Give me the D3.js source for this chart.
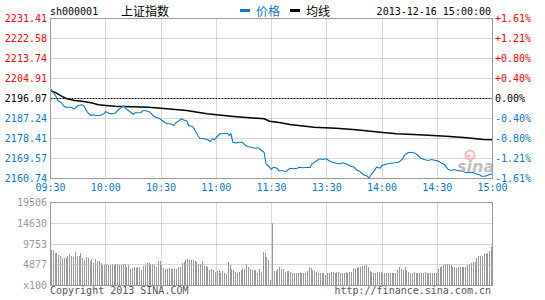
<!DOCTYPE html>
<html><head><meta charset="utf-8">
<script src="https://cdn.jsdelivr.net/npm/d3@7"></script>
<style>body{margin:0;background:#fff}svg{display:block}</style>
</head><body>
<svg id="c" width="545" height="300"></svg>
<script>
// ---- data ----
const code = "sh000001";
const title = "上证指数";
const dateText = "2013-12-16 15:00:00";
const legendNames = ["价格", "均线"];
const prevClose = 2196.07;
const priceTicks = [2231.41,2222.58,2213.74,2204.91,2196.07,2187.24,2178.41,2169.57,2160.74];
const pctLabels = ["+1.61%","+1.21%","+0.80%","+0.40%","0.00%","-0.40%","-0.80%","-1.21%","-1.61%"];
const timeLabels = ["09:30","10:00","10:30","11:00","11:30","13:30","14:00","14:30","15:00"];
const timeTickMinutes = [0,30,60,90,120,150,180,210,240];
const volTicks = [19506,14630,9753,4877];
const volUnit = "x100";

const priceMinutes = [0,2,3,4,6,7,8,11,13,15,17,18,19,20,22,23,25,27,29,30,
31,33,35,37,39,40,41,43,45,46,49,50,52,54,56,58,59,61,63,65,
67,68,70,71,73,74,75,77,78,79,80,81,83,85,87,88,89,91,92,94,
96,97,98,99,101,102,104,106,107,109,111,113,114,116,117,118,120,121,123,124,
126,128,130,132,134,135,137,139,141,142,144,146,148,150,151,153,155,157,159,161,
163,165,166,168,170,172,173,174,176,177,179,180,182,185,189,191,192,194,196,198,
200,201,203,205,207,209,210,212,214,216,218,219,221,223,225,227,229,231,233,234,
236,238,240];
const priceValues = [2200.35,2198.15,2196.95,2195.19,2194.17,2192.98,2192.23,2192.23,2191.52,2192.98,
2193.29,2192.98,2191.52,2190.02,2188.56,2188.87,2188.56,2188.56,2189.31,2190.33,
2189.75,2189.31,2189.58,2191.21,2192.54,2192.67,2191.52,2190.33,2189.14,2189.75,
2189.75,2190.64,2190.64,2190.02,2188.25,2187.55,2187.37,2186.13,2184.90,2184.90,
2184.14,2185.34,2186.35,2187.10,2186.35,2186.22,2184.14,2183.70,2182.69,2181.18,
2179.73,2178.53,2178.27,2177.96,2177.08,2178.27,2177.96,2179.73,2180.48,2180.48,
2180.74,2179.73,2180.48,2176.77,2176.50,2176.77,2176.77,2175.31,2174.87,2174.56,
2174.12,2174.30,2173.41,2172.35,2167.23,2166.48,2164.71,2165.73,2165.28,2164.14,
2164.14,2163.83,2165.28,2165.02,2165.28,2165.73,2165.46,2165.59,2165.59,2167.23,
2168.24,2169.44,2169.13,2169.44,2168.69,2167.93,2167.49,2167.23,2167.67,2167.05,
2166.17,2165.73,2164.58,2163.83,2162.37,2161.75,2160.87,2162.37,2164.27,2165.73,
2165.28,2166.48,2167.05,2167.49,2167.93,2169.13,2170.89,2172.09,2172.35,2171.91,
2170.58,2169.70,2169.13,2168.69,2169.13,2168.69,2168.69,2167.67,2166.79,2164.71,
2164.27,2164.71,2164.27,2164.27,2163.52,2163.25,2163.52,2162.81,2162.37,2161.75,
2161.75,2162.37,2162.81];

const avgMinutes = [0,3,6,9,13,18,22,26,30,35,53,60,74,85,98,108,116,119,125,130,
143,155,166,179,188,200,215,226,235,240];
const avgValues = [2199.60,2198.59,2197.09,2195.94,2195.19,2194.74,2194.17,2193.29,2192.98,2192.67,
2192.23,2191.79,2190.77,2189.31,2188.25,2187.55,2187.10,2186.04,2185.34,2184.59,
2183.39,2182.95,2182.25,2181.18,2180.48,2180.04,2179.42,2178.71,2177.96,2177.83];

const volumes = [
8225,8225,7598,7598,7050,6815,6423,6423,6423,6815,
7207,6900,6658,7755,6893,6893,7598,6423,5797,6502,
6267,5718,6032,5248,6110,5640,5562,5248,4700,4700,
4935,4622,4700,4935,4700,4935,4935,4700,4800,5013,
4935,4308,4622,3838,4073,4152,4073,4308,4152,3525,
4465,4700,5092,5092,4935,4935,4700,4308,5640,5718,
4700,4073,3760,3760,3900,3682,3760,3682,3682,4308,
4308,5092,5483,5875,6032,5875,5875,5900,5640,5483,
4935,4935,5640,4465,4465,4152,3525,3682,3525,3133,
3290,3525,2898,3290,2742,2585,5483,4700,3682,3525,
3133,2898,3133,3525,3917,3760,4935,4152,3760,3525,
3525,3525,2898,3682,3000,7833,7598,6658,5875,1175,
14492,3290,3290,3682,4308,3838,3682,3133,3290,3290,
3133,2898,2742,2742,2898,2898,2742,2898,2742,3290,
4308,3917,3525,3290,3133,2898,2898,2898,2898,2350,
2742,2742,3133,3133,2898,3133,3133,2742,2742,2898,
3133,2898,3133,3133,3917,3682,3917,4152,4308,4465,
4465,4700,4152,3368,3133,2742,2742,3133,3133,3133,
2742,2898,2742,2742,2742,2898,2898,2898,3525,4152,
3682,3525,4308,3525,3133,2898,2742,3133,2898,2898,
2742,2742,2898,3133,2898,2742,2898,2742,2742,2898,
3682,4152,4308,4700,4935,4935,4935,4700,4308,4152,
3917,4152,4152,4308,4152,4308,4700,4935,5248,5405,
5483,6267,6815,6815,6815,7207,7285,7442,8068,8852];

// ---- drawing ----
const RED = "#f00", BLUE = "#0a78c8", GRAY = "#999", GRID = "#b0b0b0";
const MONO = "'DejaVu Sans Mono', monospace";
const CJK = "'Noto Sans CJK SC', sans-serif";
const svg = d3.select("#c");

const x = d3.scaleLinear().domain([0, 240]).range([50.5, 492.5]);
const yP = d3.scaleLinear().domain([priceTicks[priceTicks.length-1], priceTicks[0]]).range([178.5, 18.5]);
const yV = d3.scaleLinear().domain([0, volTicks[0]]).range([285.5, 202.5]);
const snap = v => Math.round(v - 0.5) + 0.5;

// price grid
const g = svg.append("g");
g.selectAll(".hg").data(priceTicks.slice(1, -1).filter(d => d !== prevClose)).join("line")
  .attr("x1", 50.5).attr("x2", 492.5)
  .attr("y1", d => snap(yP(d))).attr("y2", d => snap(yP(d)))
  .attr("stroke", GRID).attr("stroke-dasharray", "1,1");
g.selectAll(".vg").data(timeTickMinutes.slice(1, -1)).join("line")
  .attr("x1", d => snap(x(d))).attr("x2", d => snap(x(d)))
  .attr("y1", 18.5).attr("y2", 178.5)
  .attr("stroke", GRID).attr("stroke-dasharray", "1,1");
// prev close dashed
g.append("line").attr("x1", 50.5).attr("x2", 492.5)
  .attr("y1", snap(yP(prevClose))).attr("y2", snap(yP(prevClose)))
  .attr("stroke", "#000").attr("stroke-dasharray", "2,1");

// lines
const avgLine = d3.line().x((d, i) => x(avgMinutes[i])).y(d => yP(d));
svg.append("path").attr("d", avgLine(avgValues)).attr("fill", "none")
  .attr("stroke", "#000").attr("stroke-width", 1.5);
const priceLine = d3.line().x((d, i) => x(priceMinutes[i])).y(d => yP(d));
svg.append("path").attr("d", priceLine(priceValues)).attr("fill", "none")
  .attr("stroke", BLUE).attr("stroke-width", 1.1);

// watermark
const wm = svg.append("g").attr("opacity", 0.75);
wm.append("circle").attr("cx", 470).attr("cy", 155).attr("r", 4.5).attr("fill", "none").attr("stroke", "#f3a3a3").attr("stroke-width", 2);
wm.append("circle").attr("cx", 469).attr("cy", 156).attr("r", 1.8).attr("fill", "#f3a3a3");
wm.append("text").attr("x", 457).attr("y", 172).text("sina")
  .attr("font-family", "'DejaVu Sans', sans-serif").attr("font-size", 16).attr("font-weight", "bold")
  .attr("font-style", "italic").attr("fill", "#aaa");

// price frame
svg.append("rect").attr("x", 50.5).attr("y", 18.5).attr("width", 442).attr("height", 160)
  .attr("fill", "none").attr("stroke", GRAY);

// left labels
svg.selectAll(".pl").data(priceTicks).join("text")
  .attr("x", 47).attr("y", d => yP(d) + 3.5).attr("text-anchor", "end")
  .attr("font-family", MONO).attr("font-size", 10)
  .attr("fill", d => d > prevClose ? RED : (d < prevClose ? BLUE : "#000"))
  .text(d => d.toFixed(2));
// right labels
svg.selectAll(".rl").data(pctLabels).join("text")
  .attr("x", 495).attr("y", (d, i) => yP(priceTicks[i]) + 3.5)
  .attr("font-family", MONO).attr("font-size", 10)
  .attr("fill", (d, i) => priceTicks[i] > prevClose ? RED : (priceTicks[i] < prevClose ? BLUE : "#000"))
  .text(d => d);
// time labels
svg.selectAll(".tl").data(timeLabels).join("text")
  .attr("x", (d, i) => x(timeTickMinutes[i])).attr("y", 191).attr("text-anchor", "middle")
  .attr("font-family", MONO).attr("font-size", 10).attr("fill", BLUE)
  .text(d => d);

// volume bars
svg.selectAll(".vb").data(volumes).join("rect")
  .attr("x", (d, i) => Math.round(x(i + 0.5) - 0.5))
  .attr("width", 1)
  .attr("y", d => Math.round(yV(d) - 0.5))
  .attr("height", d => 285 - Math.round(yV(d) - 0.5))
  .attr("fill", GRAY);
// volume grid
svg.selectAll(".vhg").data(volTicks.slice(1)).join("line")
  .attr("x1", 50.5).attr("x2", 492.5)
  .attr("y1", d => snap(yV(d))).attr("y2", d => snap(yV(d)))
  .attr("stroke", GRID).attr("stroke-dasharray", "1,1");
svg.selectAll(".vvg").data(timeTickMinutes.slice(1, -1)).join("line")
  .attr("x1", d => snap(x(d))).attr("x2", d => snap(x(d)))
  .attr("y1", 202.5).attr("y2", 285.5)
  .attr("stroke", GRID).attr("stroke-dasharray", "1,1");
svg.append("rect").attr("x", 50.5).attr("y", 202.5).attr("width", 442).attr("height", 83)
  .attr("fill", "none").attr("stroke", GRAY);
svg.selectAll(".vl").data(volTicks).join("text")
  .attr("x", 47).attr("y", d => yV(d) + 3.5).attr("text-anchor", "end")
  .attr("font-family", MONO).attr("font-size", 10).attr("fill", GRAY)
  .text(d => d);
svg.append("text").attr("x", 47).attr("y", yV(0) + 3).attr("text-anchor", "end")
  .attr("font-family", MONO).attr("font-size", 10).attr("fill", GRAY).text(volUnit);

// header
svg.append("text").attr("x", 50).attr("y", 15).attr("font-family", MONO).attr("font-size", 10)
  .attr("fill", "#000").text(code);
svg.append("text").attr("x", 121).attr("y", 15.5).attr("font-family", CJK).attr("font-size", 12)
  .attr("fill", "#000").text(title);
const legColors = [BLUE, "#000"];
const legX = [240, 290];
legendNames.forEach((n, i) => {
  svg.append("rect").attr("x", legX[i]).attr("y", 9).attr("width", 10).attr("height", 3).attr("fill", legColors[i]);
  svg.append("text").attr("x", legX[i] + 16).attr("y", 15.5).attr("font-family", CJK).attr("font-size", 12)
    .attr("fill", legColors[i]).text(n);
});
svg.append("text").attr("x", 491).attr("y", 15).attr("text-anchor", "end")
  .attr("font-family", MONO).attr("font-size", 10).attr("fill", "#000").text(dateText);

// footer
svg.append("text").attr("x", 50).attr("y", 294).attr("font-family", MONO).attr("font-size", 10)
  .attr("fill", "#555").text("Copyright 2013 SINA.COM");
svg.append("text").attr("x", 491).attr("y", 294).attr("text-anchor", "end").attr("font-family", MONO)
  .attr("font-size", 10).attr("fill", "#555").text("http://finance.sina.com.cn");
</script>
</body></html>
